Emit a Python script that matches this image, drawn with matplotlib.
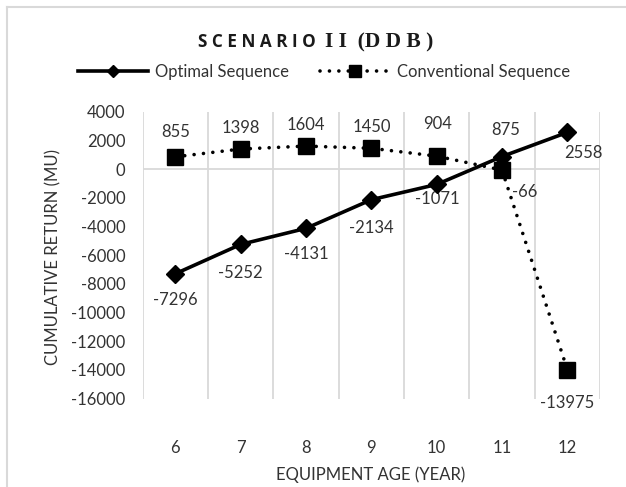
import matplotlib
matplotlib.use("Agg")
import matplotlib.pyplot as plt
from matplotlib.lines import Line2D

# chart data
ages = ["6", "7", "8", "9", "10", "11", "12"]
optimal = [-7296, -5252, -4131, -2134, -1071, 875, 2558]
conventional = [855, 1398, 1604, 1450, 904, -66, -13975]
y_ticks = [4000, 2000, 0, -2000, -4000, -6000, -8000, -10000, -12000, -14000, -16000]

# label offsets in pixels (dx, dy)
opt_offsets = [(0, -26), (0, -29), (0, -26), (0, -28), (1, -15), (4, 27), (16, -21)]
conv_offsets = [(0, 25), (0, 21), (0, 21), (0, 21), (1, 32), (23, -22), (0, -33)]

W, H = 626, 487
TEXT = "#333333"
GRID = "#d9d9d9"
FS = 12
plt.rcParams["font.family"] = ["Lato", "DejaVu Sans"]


def main():
    fig = plt.figure(figsize=(W / 100, H / 100), dpi=100)
    ax = fig.add_axes([142.7 / W, 1 - 398.6 / H, (600 - 142.7) / W, (398.6 - 111.7) / H])

    x = list(range(len(ages)))

    # grid: vertical lines at category boundaries, axis line at zero
    ax.set_xticks([i - 0.5 for i in range(len(ages) + 1)], minor=True)
    ax.grid(True, which="minor", axis="x", color=GRID, lw=1.3)
    ax.axhline(0, color=GRID, lw=1.3, zorder=1)
    for s in ax.spines.values():
        s.set_visible(False)

    ax.plot(x, conventional, color="black", lw=2.6, linestyle=(0, (0.01, 2.6)),
            dash_capstyle="round", marker="s", markersize=11,
            markeredgecolor="black", markeredgewidth=1, zorder=3,
            label="Conventional Sequence")
    ax.plot(x, optimal, color="black", lw=2.6, marker="D", markersize=9,
            zorder=4, label="Optimal Sequence")

    for xi, v, (dx, dy) in zip(x, optimal, opt_offsets):
        ax.annotate(str(v), (xi, v), xytext=(dx, dy), textcoords="offset pixels",
                    ha="center", va="center", fontsize=FS, color=TEXT)
    for xi, v, (dx, dy) in zip(x, conventional, conv_offsets):
        ax.annotate(str(v), (xi, v), xytext=(dx, dy), textcoords="offset pixels",
                    ha="center", va="center", fontsize=FS, color=TEXT)

    ax.set_xlim(-0.5, len(ages) - 0.5)
    ax.set_ylim(-16000, 4000)
    ax.set_yticks(y_ticks)
    ax.set_yticklabels([str(t) for t in y_ticks])
    ax.set_xticks(x)
    ax.set_xticklabels(ages)
    ax.tick_params(axis="y", length=0, pad=12.5, labelsize=FS, labelcolor=TEXT)
    ax.tick_params(axis="x", which="both", length=0, pad=30, labelsize=FS, labelcolor=TEXT)

    fig.text(53 / W, 1 - 257 / H, "CUMULATIVE RETURN (MU)", rotation=90,
             ha="center", va="center", fontsize=FS, color=TEXT)
    fig.text(371 / W, 1 - 475 / H, "EQUIPMENT AGE (YEAR)",
             ha="center", va="center", fontsize=FS, color=TEXT)

    # title: spaced bold sans + bold serif roman numerals
    fig.text(198 / W, 1 - 42 / H, "S C E N A R I O", ha="left", va="center",
             fontsize=12.3, fontweight="bold", color="#1a1a1a", family="Open Sans")
    fig.text(325 / W, 1 - 42 / H, "I I  (D D B )", ha="left", va="center",
             fontsize=15.5, fontweight="bold", color="#1a1a1a", family="Liberation Serif")

    handles = [
        Line2D([], [], color="black", lw=2.6, marker="D", markersize=6),
        Line2D([], [], color="black", lw=2.6, linestyle=(0, (0.01, 2.6)),
               dash_capstyle="round", marker="s", markersize=8),
    ]
    fig.legend(handles, ["Optimal Sequence", "Conventional Sequence"],
               loc="center", bbox_to_anchor=(324 / W, 1 - 72 / H), ncol=2,
               frameon=False, fontsize=FS, handlelength=4.2, handletextpad=0.4,
               columnspacing=1.9, labelcolor=TEXT)

    # light frame on top and left edges
    fig.add_artist(Line2D([7 / W, 7 / W], [0, 1 - 7 / H], color=GRID, lw=1.5))
    fig.add_artist(Line2D([7 / W, 1], [1 - 7 / H, 1 - 7 / H], color=GRID, lw=1.5))

    fig.savefig("out.png", dpi=100)


if __name__ == "__main__":
    main()
